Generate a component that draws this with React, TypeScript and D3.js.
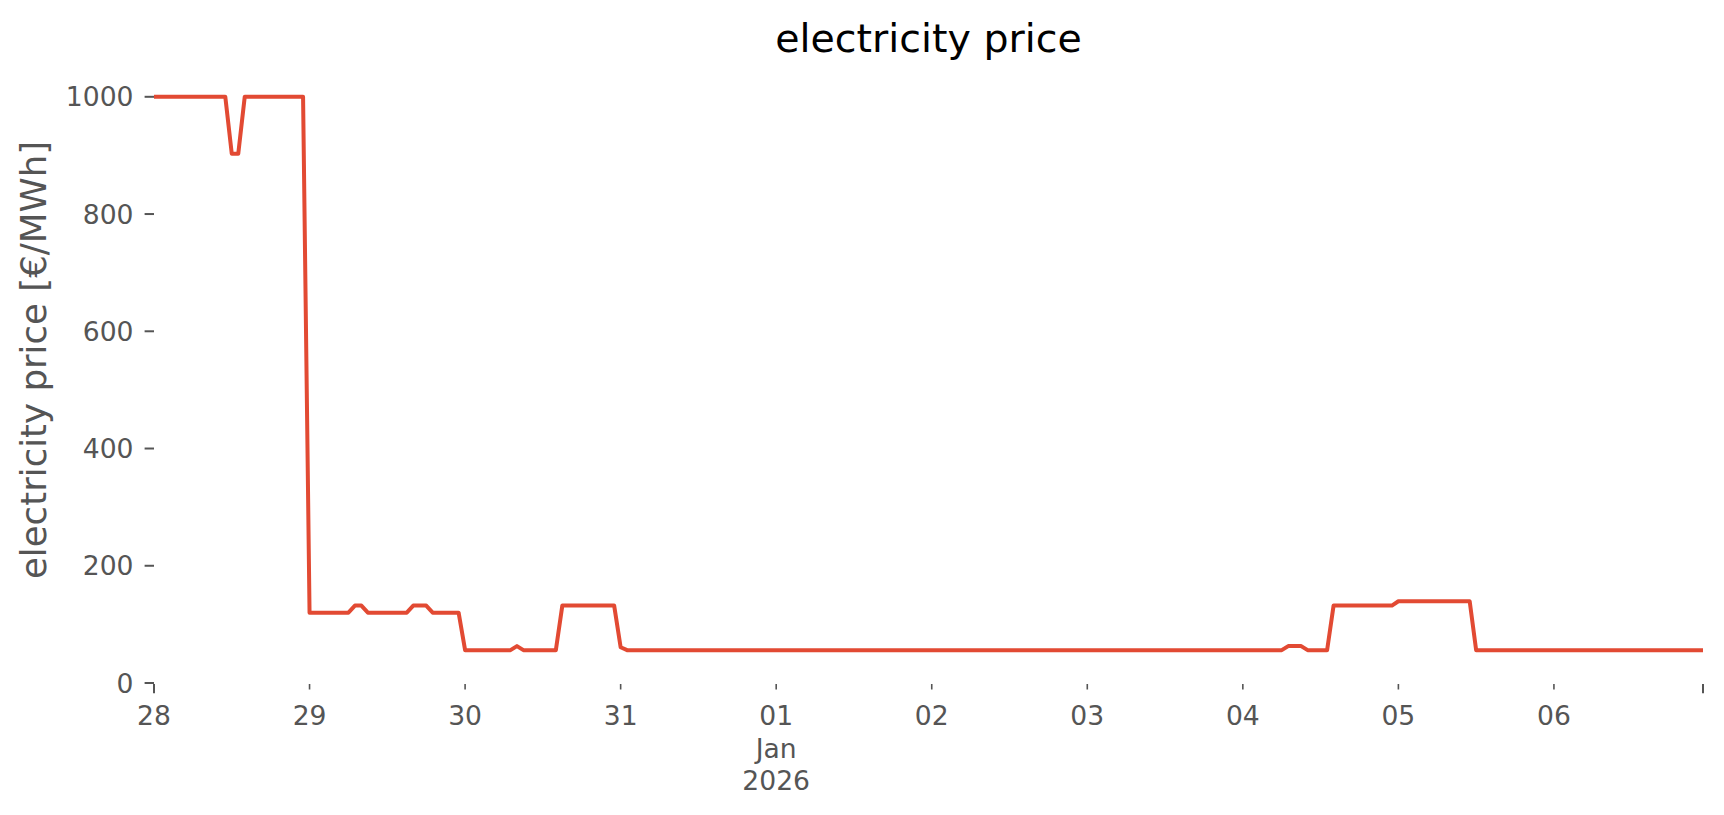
import React from "react";
import * as d3 from "d3";

// Hourly day-ahead electricity price [€/MWh], one array per day (00:00 .. 23:00)
const dec28 = [1000,1000,1000,1000,1000,1000,1000,1000,1000,1000,1000,1000,903,903,1000,1000,1000,1000,1000,1000,1000,1000,1000,1000];
const dec29 = [120,120,120,120,120,120,120,132,132,120,120,120,120,120,120,120,132,132,132,120,120,120,120,120];
const dec30 = [56,56,56,56,56,56,56,56,63,56,56,56,56,56,56,132,132,132,132,132,132,132,132,132];
const dec31 = [61,56,56,56,56,56,56,56,56,56,56,56,56,56,56,56,56,56,56,56,56,56,56,56];
const jan01 = [56,56,56,56,56,56,56,56,56,56,56,56,56,56,56,56,56,56,56,56,56,56,56,56];
const jan02 = [56,56,56,56,56,56,56,56,56,56,56,56,56,56,56,56,56,56,56,56,56,56,56,56];
const jan03 = [56,56,56,56,56,56,56,56,56,56,56,56,56,56,56,56,56,56,56,56,56,56,56,56];
const jan04 = [56,56,56,56,56,56,56,63,63,63,56,56,56,56,132,132,132,132,132,132,132,132,132,132];
const jan05 = [139.5,139.5,139.5,139.5,139.5,139.5,139.5,139.5,139.5,139.5,139.5,139.5,56,56,56,56,56,56,56,56,56,56,56,56];
const jan06 = [56,56,56,56,56,56,56,56,56,56,56,56,56,56,56,56,56,56,56,56,56,56,56,56];

const days = [
  { date: new Date(2025, 11, 28), values: dec28 },
  { date: new Date(2025, 11, 29), values: dec29 },
  { date: new Date(2025, 11, 30), values: dec30 },
  { date: new Date(2025, 11, 31), values: dec31 },
  { date: new Date(2026, 0, 1), values: jan01 },
  { date: new Date(2026, 0, 2), values: jan02 },
  { date: new Date(2026, 0, 3), values: jan03 },
  { date: new Date(2026, 0, 4), values: jan04 },
  { date: new Date(2026, 0, 5), values: jan05 },
  { date: new Date(2026, 0, 6), values: jan06 },
];

const xTickLabels = ["28", "29", "30", "31", "01\nJan\n2026", "02", "03", "04", "05", "06"];
const yTicks = [0, 200, 400, 600, 800, 1000];

const TITLE = "electricity price";
const Y_LABEL = "electricity price [€/MWh]";

type Pt = { t: Date; v: number };
const series: Pt[] = days.flatMap((d) =>
  d.values.map((v, h) => ({ t: d3.timeHour.offset(d.date, h), v }))
);

export default function App() {
  const W = 1724, H = 815;
  const left = 154, right = 1703, bottom = 684, top = 69;
  const x = d3.scaleTime()
    .domain([series[0].t, series[series.length - 1].t])
    .range([left, right]);
  const y = d3.scaleLinear().domain([0, 1000]).range([683, 96.8]);
  const line = d3.line<Pt>().x((d) => x(d.t)).y((d) => y(d.v));
  const font = "'DejaVu Sans', sans-serif";
  const tickColor = "#555555";
  const endTick = series[series.length - 1].t;

  return (
    <svg width={W} height={H} style={{ position: "absolute", left: 0, top: 0, background: "#fff" }}
      fontFamily={font}>
      <defs>
        <clipPath id="plotclip">
          <rect x={left} y={top} width={right - left} height={bottom - top + 4} />
        </clipPath>
      </defs>
      <text x={(left + right) / 2} y={51.5} textAnchor="middle" fontSize={39.5} fill="#000">{TITLE}</text>
      <text transform={`translate(46,360) rotate(-90)`} textAnchor="middle" fontSize={35.6} fill={tickColor}>{Y_LABEL}</text>

      {yTicks.map((t) => (
        <g key={t}>
          <line x1={left - 9.4} x2={left} y1={y(t)} y2={y(t)} stroke={tickColor} strokeWidth={2} />
          <text x={133.5} y={y(t)} dy="0.36em" textAnchor="end" fontSize={26.6} fill={tickColor}>{t}</text>
        </g>
      ))}

      {days.map((d, i) => (
        <g key={i}>
          <line x1={x(d.date)} x2={x(d.date)} y1={bottom} y2={bottom + (i === 0 ? 9.3 : 5.5)}
            stroke={tickColor} strokeWidth={i === 0 ? 2 : 1.6} />
          <text x={x(d.date)} y={725} textAnchor="middle" fontSize={26.6} fill={tickColor}>
            {xTickLabels[i].split("\n").map((s, k) => (
              <tspan key={k} x={x(d.date)} dy={k === 0 ? 0 : 32.5}>{s}</tspan>
            ))}
          </text>
        </g>
      ))}
      <line x1={x(endTick)} x2={x(endTick)} y1={bottom} y2={bottom + 9.3} stroke={tickColor} strokeWidth={2} />

      <path d={line(series) || ""} fill="none" stroke="#E24A33" strokeWidth={4}
        strokeLinejoin="round" strokeLinecap="square" clipPath="url(#plotclip)" />
    </svg>
  );
}
